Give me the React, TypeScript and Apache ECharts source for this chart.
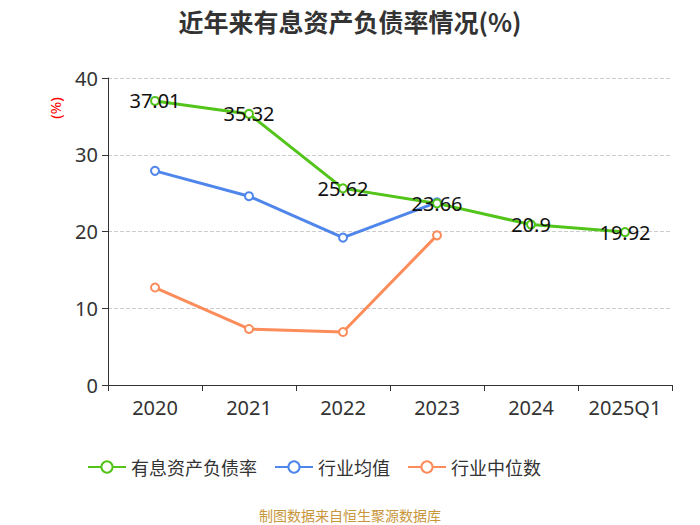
import React, { useEffect, useRef } from "react";
import * as echarts from "echarts";

const categories = ["2020", "2021", "2022", "2023", "2024", "2025Q1"];
const debtRatio = [37.01, 35.32, 25.62, 23.66, 20.9, 19.92];
const industryAvg = [27.9, 24.6, 19.2, 23.8, null, null];
const industryMedian = [12.7, 7.3, 6.9, 19.5, null, null];
const legendNames = ["有息资产负债率", "行业均值", "行业中位数"];
const colors = ["#52c41a", "#4f86ec", "#fc8c5a"];

export default function App() {
  const ref = useRef<HTMLDivElement>(null);
  useEffect(() => {
    document.body.style.margin = "0";
    if (!ref.current) return;
    const chart = echarts.init(ref.current, undefined, { renderer: "svg" });
    const mk = (name: string, data: (number | null)[], color: string, label: boolean) => ({
      name,
      type: "line",
      data,
      symbol: "emptyCircle",
      symbolSize: 8,
      itemStyle: { color, borderWidth: 2 },
      lineStyle: { color, width: 3 },
      label: label
        ? { show: true, position: "inside", color: "#111", fontSize: 20, fontFamily: "Noto Sans" }
        : { show: false },
      z: label ? 3 : 2,
    });
    chart.setOption({
      animation: false,
      color: colors,
      title: {
        text: "近年来有息资产负债率情况(%)",
        left: "center",
        top: 3,
        textStyle: { fontSize: 25, fontWeight: "bold", color: "#333", fontFamily: "Noto Sans CJK SC" },
      },
      grid: { left: 108, right: 28, top: 78, bottom: 140 },
      legend: {
        data: legendNames,
        top: 453,
        left: 82,
        itemWidth: 38,
        itemHeight: 14,
        itemGap: 17,
        textStyle: { fontSize: 18, color: "#333", fontFamily: "Noto Sans CJK SC" },
      },
      graphic: [
        {
          type: "text",
          left: "center",
          top: 508,
          style: { text: "制图数据来自恒生聚源数据库", fill: "#c8963c", fontSize: 14, fontFamily: "Noto Sans CJK SC" },
        },
        {
          type: "text",
          x: 55,
          y: 108,
          rotation: Math.PI / 2,
          style: {
            text: "(%)",
            fill: "#f00",
            fontSize: 15,
            align: "center",
            verticalAlign: "middle",
            fontFamily: "Noto Sans",
          },
        },
      ],
      xAxis: {
        type: "category",
        data: categories,
        axisLine: { lineStyle: { color: "#333" } },
        axisTick: { show: true, length: 6, lineStyle: { color: "#333" } },
        axisLabel: { interval: 0, fontSize: 20, color: "#333", margin: 12, fontFamily: "Noto Sans" },
      },
      yAxis: {
        type: "value",
        min: 0,
        max: 40,
        interval: 10,
        axisLine: { show: true, lineStyle: { color: "#333" } },
        axisTick: { show: true, length: 6, lineStyle: { color: "#333" } },
        axisLabel: { fontSize: 20, color: "#333", margin: 10, fontFamily: "Noto Sans" },
        splitLine: { lineStyle: { type: "dashed", color: "#ccc" } },
      },
      series: [
        mk(legendNames[0], debtRatio, colors[0], true),
        mk(legendNames[1], industryAvg, colors[1], false),
        mk(legendNames[2], industryMedian, colors[2], false),
      ],
    });
    return () => chart.dispose();
  }, []);
  return <div ref={ref} style={{ width: 700, height: 525 }} />;
}
